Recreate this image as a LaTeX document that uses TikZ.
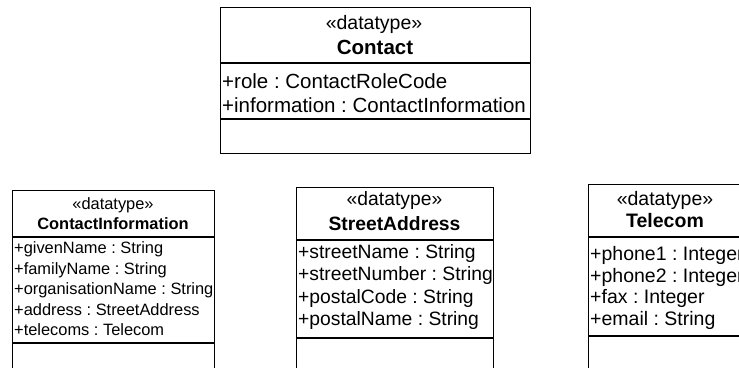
\documentclass[tikz,border=0pt]{standalone}
\usepackage{fontspec}
\setmainfont{Liberation Sans}
\frenchspacing
\begin{document}
\begin{tikzpicture}[x=1pt,y=-1pt,
  classbox/.style={draw,line width=1.2pt,anchor=north west,inner sep=0pt},
  sepline/.style={line width=1.2pt},
  attr/.style={inner sep=0pt,anchor=base west},
  headtxt/.style={inner sep=0pt,anchor=base},
  fa/.style={font=\fontsize{20.5}{24}\selectfont},
  fb/.style={font=\fontsize{16.4}{20}\selectfont},
  fc/.style={font=\fontsize{19.3}{23}\selectfont},
  fd/.style={font=\fontsize{19.5}{23}\selectfont}]
\clip (0,0) rectangle (739,367);
\fill[white] (0,0) rectangle (739,367);

% Contact
\node[classbox,minimum width=310pt,minimum height=146pt] (contact) at (220,7) {};
\draw[sepline] (220,63) -- (530,63);
\draw[sepline] (220,119) -- (530,119);
\node[headtxt,font=\fontsize{19.5}{23}\selectfont] (contactst) at (374,29) {«datatype»};
\node[headtxt,font=\fontsize{20.5}{24}\selectfont\bfseries] (contactnm) at (375,54) {Contact};
\node[attr,fa] (c1) at (222,88) {+role : ContactRoleCode};
\node[attr,fa] (c2) at (222,112) {+information : ContactInformation};

% ContactInformation
\node[classbox,minimum width=202pt,minimum height=220pt] (ci) at (12,190) {};
\draw[sepline] (12,237) -- (214,237);
\draw[sepline] (12,343) -- (214,343);
\node[headtxt,fb] (cist) at (113,209.5) {«datatype»};
\node[headtxt,font=\fontsize{16.4}{20}\selectfont\bfseries] (cinm) at (113,229.5) {ContactInformation};
\node[attr,fb] (ci1) at (14,253.5) {+givenName : String};
\node[attr,fb] (ci2) at (14,274) {+familyName : String};
\node[attr,fb] (ci3) at (14,294.5) {+organisationName : String};
\node[attr,fb] (ci4) at (14,315) {+address : StreetAddress};
\node[attr,fb] (ci5) at (14,335.5) {+telecoms : Telecom};

% StreetAddress
\node[classbox,minimum width=197pt,minimum height=220pt] (sa) at (296,187) {};
\draw[sepline] (296,240) -- (493,240);
\draw[sepline] (296,338) -- (493,338);
\node[headtxt,fc] (sast) at (394.5,205) {«datatype»};
\node[headtxt,font=\fontsize{19.3}{23}\selectfont\bfseries] (sanm) at (394.5,230) {StreetAddress};
\node[attr,fc] (sa1) at (298,258) {+streetName : String};
\node[attr,fc] (sa2) at (298,280.5) {+streetNumber : String};
\node[attr,fc] (sa3) at (298,303) {+postalCode : String};
\node[attr,fc] (sa4) at (298,325.5) {+postalName : String};

% Telecom
\node[classbox,minimum width=156pt,minimum height=220pt] (tc) at (588,184) {};
\draw[sepline] (588,237) -- (744,237);
\draw[sepline] (588,336) -- (744,336);
\node[headtxt,fd] (tcst) at (665,205) {«datatype»};
\node[headtxt,font=\fontsize{19.5}{23}\selectfont\bfseries] (tcnm) at (665,227) {Telecom};
\node[attr,fd] (tc1) at (590,260.5) {+phone1 : Integer};
\node[attr,fd] (tc2) at (590,282) {+phone2 : Integer};
\node[attr,fd] (tc3) at (590,303.5) {+fax : Integer};
\node[attr,fd] (tc4) at (590,325.5) {+email : String};
\end{tikzpicture}
\end{document}
